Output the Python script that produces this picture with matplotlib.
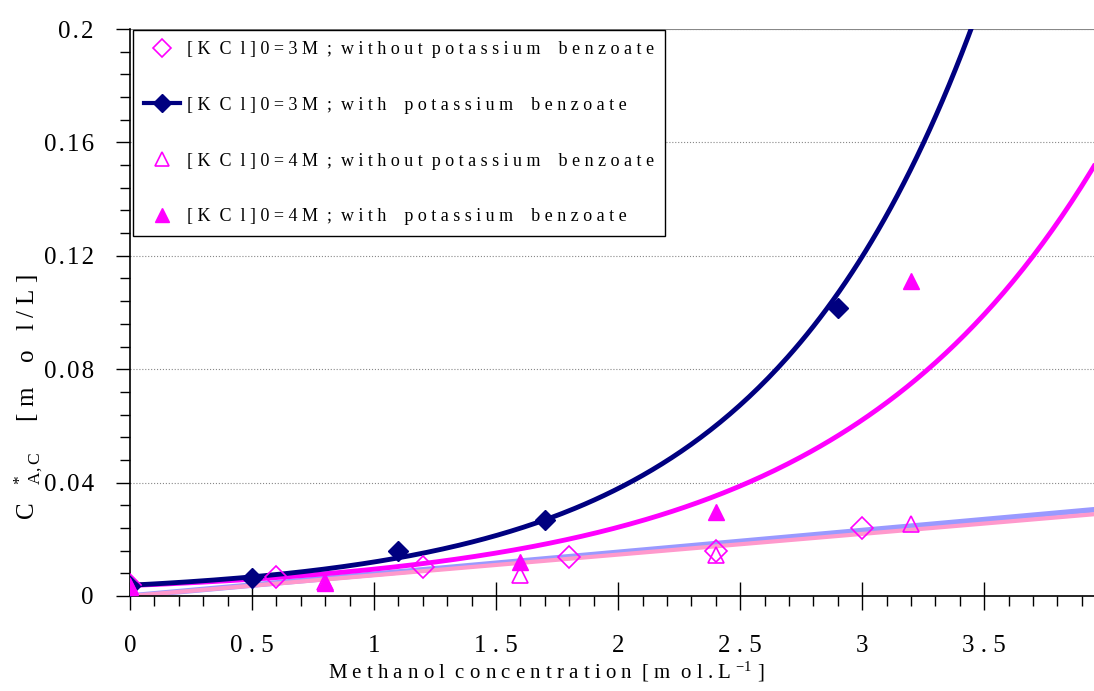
import numpy as np
import matplotlib.pyplot as plt
from matplotlib.lines import Line2D
from matplotlib.ticker import MultipleLocator

plt.rcParams['font.family'] = ['Liberation Serif', 'DejaVu Serif']
plt.rcParams['mathtext.fontset'] = 'custom'
plt.rcParams['mathtext.rm'] = 'Liberation Serif'
plt.rcParams['mathtext.it'] = 'Liberation Serif'

# [KCl]0 = 3 M, without potassium benzoate (open diamonds)
x_3m_wo = [0.0, 0.6, 1.2, 1.8, 2.4, 3.0]
y_3m_wo = [0.0038, 0.0067, 0.0102, 0.0138, 0.0159, 0.0240]
# [KCl]0 = 3 M, with potassium benzoate (filled navy diamonds)
x_3m_w = [0.0, 0.5, 1.1, 1.7, 2.9]
y_3m_w = [0.0036, 0.0063, 0.0159, 0.0268, 0.1016]
# [KCl]0 = 4 M, without potassium benzoate (open triangles)
x_4m_wo = [0.0, 0.8, 1.6, 2.4, 3.2]
y_4m_wo = [0.0035, 0.0050, 0.0074, 0.0145, 0.0254]
# [KCl]0 = 4 M, with potassium benzoate (filled triangles)
x_4m_w = [0.0, 0.8, 1.6, 2.4, 3.2]
y_4m_w = [0.0030, 0.0046, 0.0120, 0.0296, 0.1110]

# trend lines (y = a*exp(b*x) and y = k*x)
navy_a, navy_b = 0.0038, 1.15
mag_a, mag_b = 0.0037, 0.94
blue_k = 0.0077
pink_k = 0.0073

labels = [
    "[ K  C  l ] 0 = 3 M  ;  w i t h o u t  p o t a s s i u m    b e n z o a t e",
    "[ K  C  l ] 0 = 3 M  ;  w i t h    p o t a s s i u m    b e n z o a t e",
    "[ K  C  l ] 0 = 4 M  ;  w i t h o u t  p o t a s s i u m    b e n z o a t e",
    "[ K  C  l ] 0 = 4 M  ;  w i t h    p o t a s s i u m    b e n z o a t e",
]
H = "\u200a"
xticks = [0, 0.5, 1, 1.5, 2, 2.5, 3, 3.5]
xticklabels = ["0", "0 . 5", "1", "1 . 5", "2", "2 . 5", "3", "3 . 5"]
yticks = [0, 0.04, 0.08, 0.12, 0.16, 0.2]
yticklabels = ["0", H.join("0.04"), H.join("0.08"), H.join("0.12"),
               H.join("0.16"), H.join("0.2")]

navy = "#000080"
mag = "#FF00FF"

fig = plt.figure(figsize=(10.94, 6.91), dpi=100)
ax = fig.add_axes([130 / 1094, 95 / 691, 964 / 1094, 567 / 691])

xs = np.linspace(0, 3.95, 300)
ax.plot(xs, blue_k * xs, color="#9999FF", lw=4, zorder=2)
ax.plot(xs, pink_k * xs, color="#FF99CC", lw=3, zorder=2)
ax.plot(xs, mag_a * np.exp(mag_b * xs), color=mag, lw=3.5, zorder=3)
ax.plot(xs, navy_a * np.exp(navy_b * xs), color=navy, lw=3.5, zorder=3)

ax.plot(x_3m_wo, y_3m_wo, "D", ms=11, mfc="none", mec=mag, mew=1.2, zorder=5)
ax.plot(x_3m_w, y_3m_w, "D", ms=10, color=navy, zorder=5)
ax.plot(x_4m_wo, y_4m_wo, "^", ms=11, mfc="none", mec=mag, mew=1.2, zorder=5)
ax.plot(x_4m_w, y_4m_w, "^", ms=11, color=mag, zorder=5)

ax.set_xlim(0, 3.95)
ax.set_ylim(0, 0.2)
ax.set_xticks(xticks, xticklabels)
ax.set_yticks(yticks, yticklabels)
ax.xaxis.set_minor_locator(MultipleLocator(0.1))
ax.yaxis.set_minor_locator(MultipleLocator(0.008))
ax.tick_params(axis="x", which="major", direction="inout", length=20, width=1, pad=18, labelsize=18)
ax.tick_params(axis="x", which="minor", direction="out", length=7, width=1)
ax.tick_params(axis="y", which="major", direction="out", length=10, width=1, pad=16, labelsize=18)
ax.tick_params(axis="y", which="minor", direction="out", length=7, width=1)

ax.grid(axis="y", which="major", color="#888888", lw=0.8, ls=":")
ax.axhline(0.2, color="#888888", lw=1.5, zorder=1)
ax.spines["top"].set_visible(False)
ax.spines["right"].set_visible(False)
ax.spines["left"].set_linewidth(1.2)
ax.spines["bottom"].set_linewidth(1.2)

ax.set_xlabel(r"M e t h a n o l  c o n c e n t r a t i o n  [ m  o l . L $^{\mathrm{- 1}}$ ]", fontsize=15)
ax.xaxis.set_label_coords(0.432, -0.112)
ax.set_ylabel(r"C   $^{*}_{\mathrm{A  ,  C}}$     [ m    o   l / L ]", fontsize=18)
ax.yaxis.set_label_coords(-0.088, 0.35)

handles = [
    Line2D([], [], ls="none", marker="D", ms=9, mfc="none", mec=mag, mew=1.2),
    Line2D([], [], color=navy, lw=3, marker="D", ms=9),
    Line2D([], [], ls="none", marker="^", ms=10, mfc="none", mec=mag, mew=1.2),
    Line2D([], [], ls="none", marker="^", ms=10, color=mag),
]
leg = ax.legend(handles, labels, loc="upper left", bbox_to_anchor=(0.003, 0.998),
                borderaxespad=0, fontsize=13, labelspacing=2.15, handlelength=2.0,
                handletextpad=0.4, borderpad=0.6, fancybox=False, framealpha=1,
                edgecolor="black")
leg.get_frame().set_linewidth(1.0)

fig.savefig("out.png", dpi=100)
